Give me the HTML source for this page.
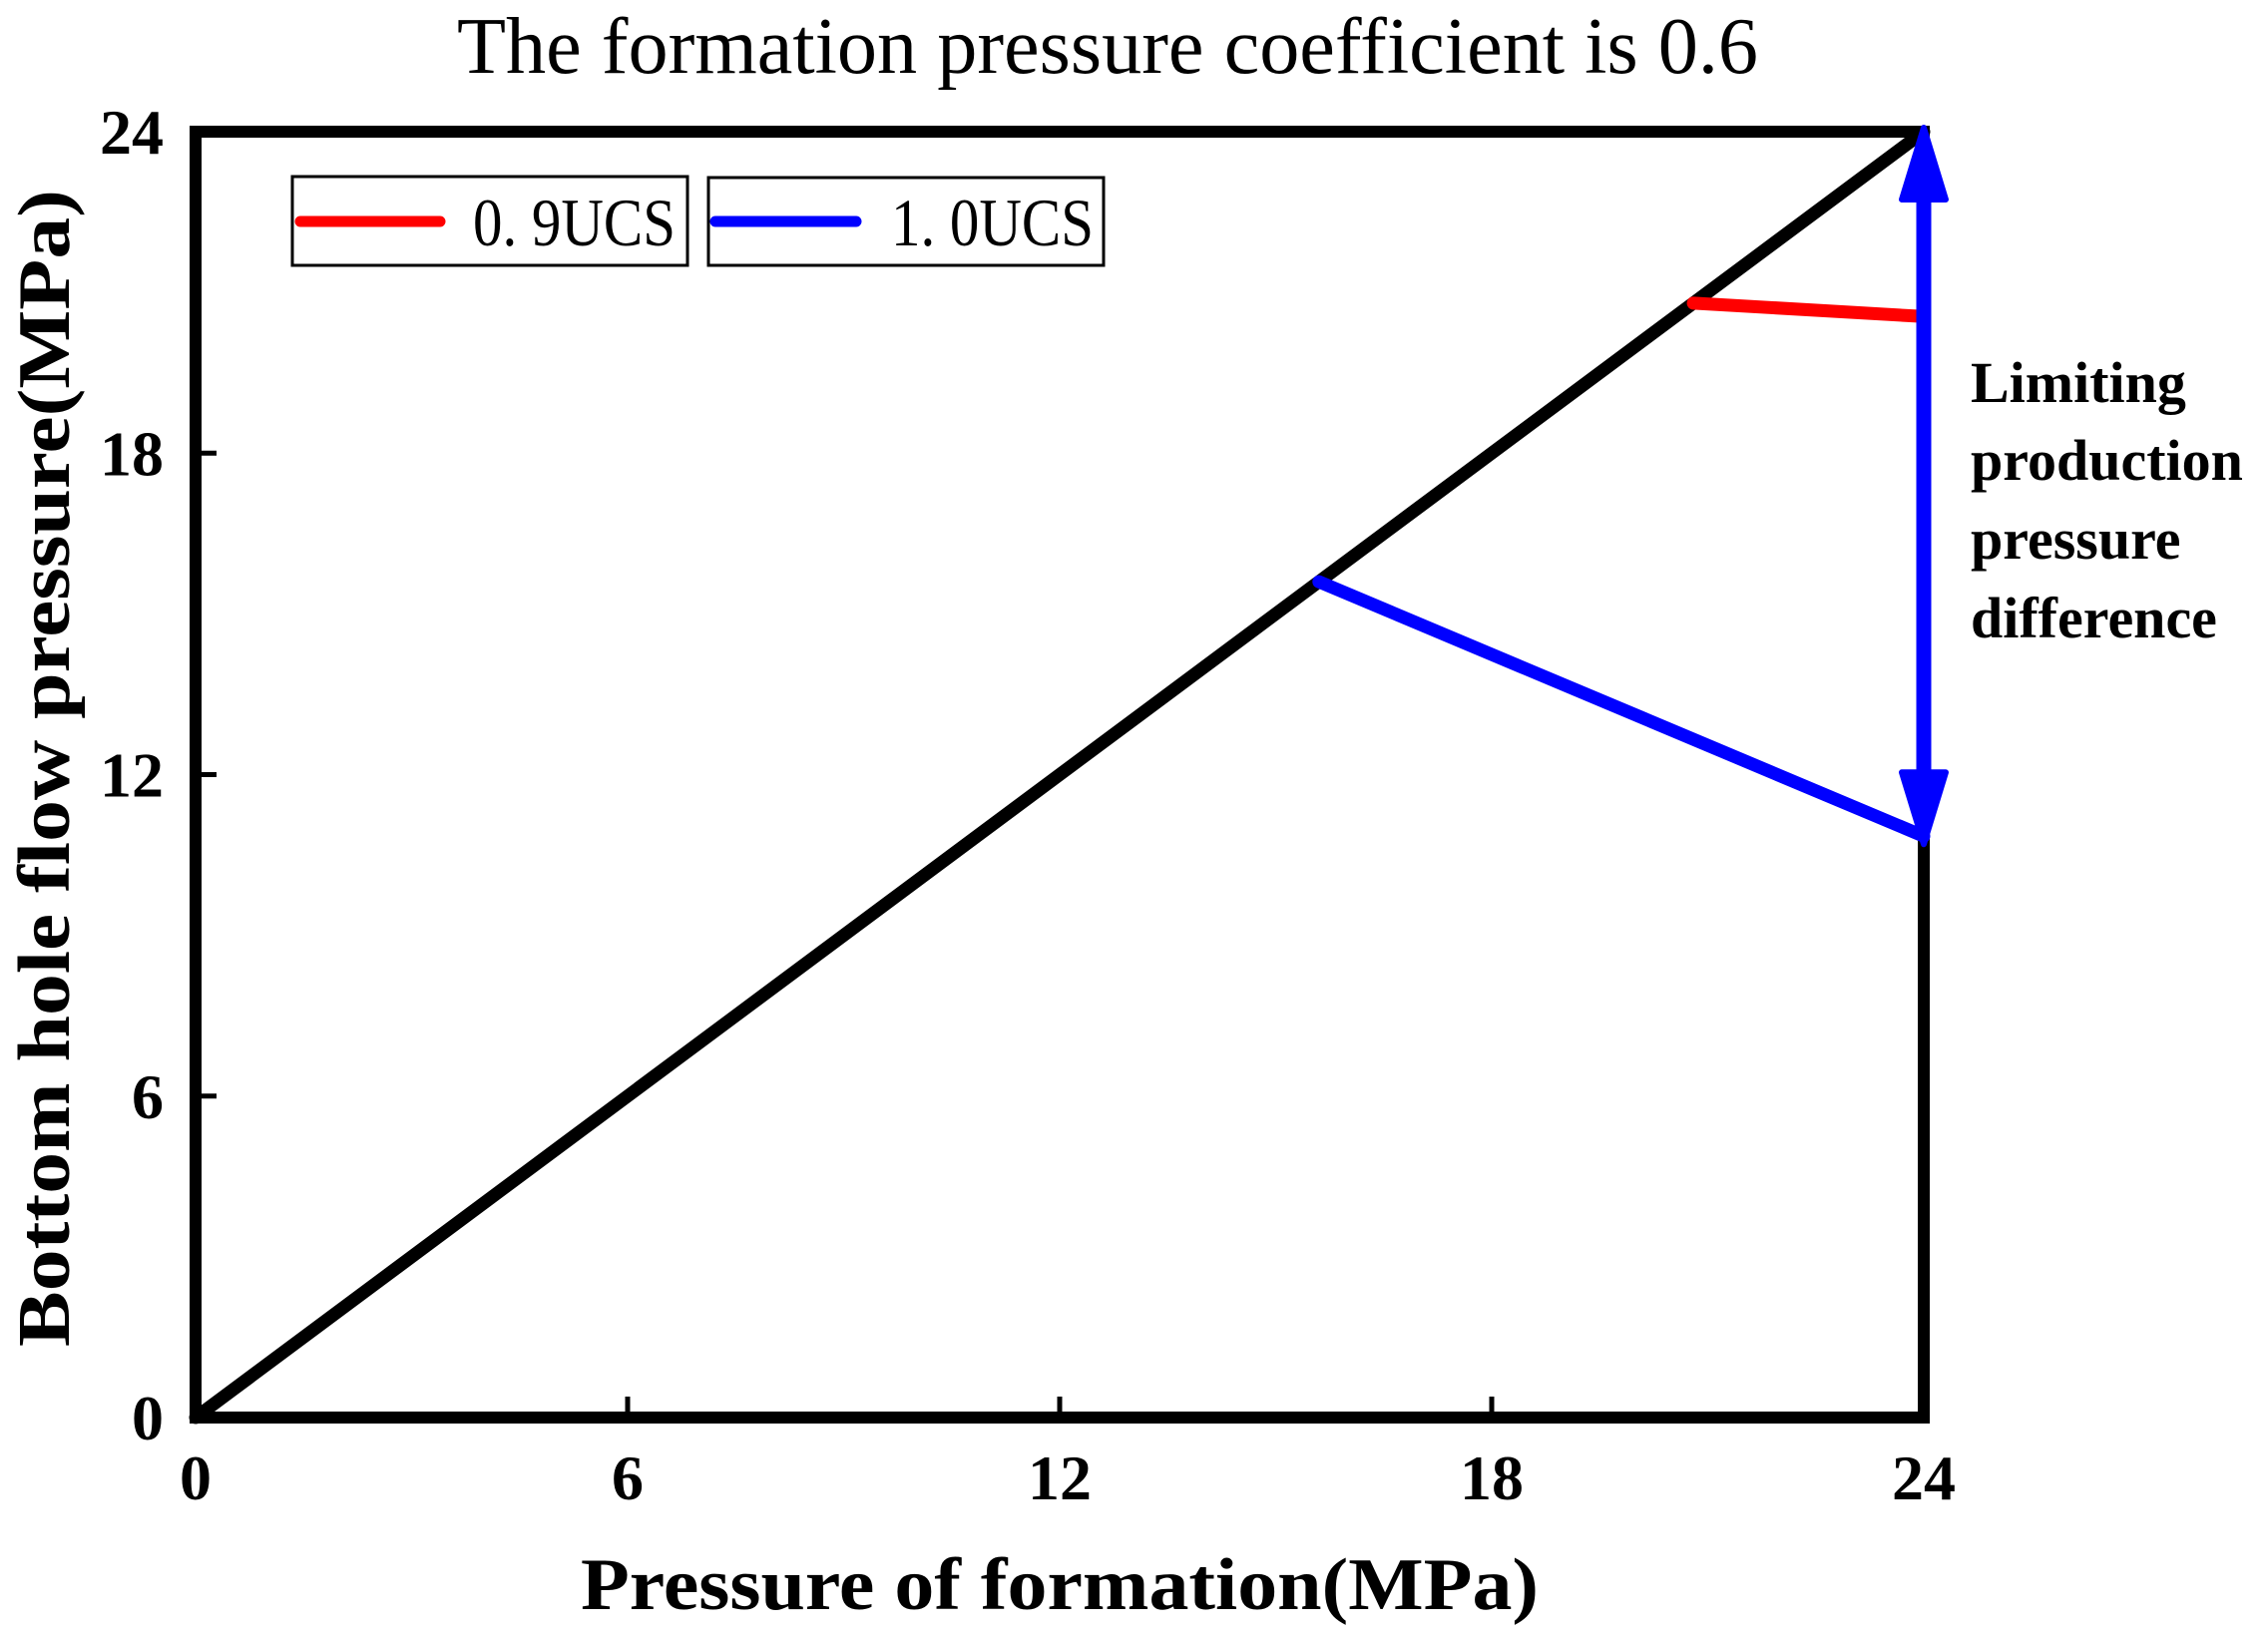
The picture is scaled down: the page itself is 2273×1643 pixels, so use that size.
<!DOCTYPE html>
<html><head><meta charset="utf-8"><style>
html,body{margin:0;padding:0;background:#fff;}
svg{display:block;}
</style></head><body>
<svg id="chart" width="2273" height="1643" viewBox="0 0 2273 1643" xmlns="http://www.w3.org/2000/svg">
<text x="1110" y="73" text-anchor="middle" font-family="Liberation Serif, serif" font-size="80" textLength="1304" lengthAdjust="spacingAndGlyphs">The formation pressure coefficient is 0.6</text>
<g id="plot"></g>
<text x="1062" y="1613" text-anchor="middle" font-family="Liberation Serif, serif" font-weight="bold" font-size="74" textLength="960" lengthAdjust="spacingAndGlyphs">Pressure of formation(MPa)</text>
<text transform="translate(69,770) rotate(-90)" text-anchor="middle" font-family="Liberation Serif, serif" font-weight="bold" font-size="74" textLength="1160" lengthAdjust="spacingAndGlyphs">Bottom hole flow pressure(MPa)</text>
<g font-family="Liberation Serif, serif" font-weight="bold" font-size="58">
<text x="1975" y="403">Limiting</text>
<text x="1975" y="481">production</text>
<text x="1975" y="560">pressure</text>
<text x="1975" y="639">difference</text>
</g>
<g>
<g>
<rect x="293" y="177" width="396" height="89" fill="#fff" stroke="#000" stroke-width="3"/>
<line x1="301" y1="222" x2="441" y2="222" stroke="#f00" stroke-width="11" stroke-linecap="round"/>
<text x="474" y="246" font-family="Liberation Serif, serif" font-size="68" textLength="203" lengthAdjust="spacingAndGlyphs">0. 9UCS</text>
</g>
<g>
<rect x="710" y="178" width="396" height="88" fill="#fff" stroke="#000" stroke-width="3"/>
<line x1="717" y1="222" x2="858" y2="222" stroke="#00f" stroke-width="11" stroke-linecap="round"/>
<text x="893" y="246" font-family="Liberation Serif, serif" font-size="68" textLength="203" lengthAdjust="spacingAndGlyphs">1. 0UCS</text>
</g>
</g>
</svg>
<script>
const xTicks = [0, 6, 12, 18, 24];
const yTicks = [0, 6, 12, 18, 24];
const diagX = [0, 24];
const diagY = [0, 24];
const redX = [20.8, 24];
const redY = [20.8, 20.55];
const blueX = [15.6, 24];
const blueY = [15.6, 10.85];
const arrowTop = 24;
const arrowBottom = 10.85;
const arrowX = 24;

const L = 196, R = 1928, T = 132, B = 1421;
const sx = v => L + (v - 0) / 24 * (R - L);
const sy = v => B - (v - 0) / 24 * (B - T);
const NS = 'http://www.w3.org/2000/svg';
const plot = document.getElementById('plot');
function mk(tag, attrs, parent) {
  const e = document.createElementNS(NS, tag);
  for (const k in attrs) e.setAttribute(k, attrs[k]);
  (parent || plot).appendChild(e);
  return e;
}
function line(xs, ys, color, w, name) {
  const p = mk('polyline', {points: xs.map((x, i) => sx(x) + ',' + sy(ys[i])).join(' '), fill: 'none', stroke: color, 'stroke-width': w, 'stroke-linecap': 'round', 'stroke-linejoin': 'round'});
  
  
  return p;
}
const fr = mk('rect', {x: L, y: T, width: R - L, height: B - T, fill: 'none', stroke: '#000', 'stroke-width': 12});


xTicks.forEach(v => {
  if (v > 0 && v < 24) {
    const t = mk('line', {x1: sx(v), x2: sx(v), y1: B, y2: B - 21, stroke: '#000', 'stroke-width': 5});
    
    
  }
  const lb = mk('text', {x: sx(v), y: 1503, 'text-anchor': 'middle', 'font-family': 'Liberation Serif, serif', 'font-weight': 'bold', 'font-size': 64});
  lb.textContent = v;
  
  
});
yTicks.forEach(v => {
  if (v > 0 && v < 24) {
    const t = mk('line', {x1: L, x2: L + 21, y1: sy(v), y2: sy(v), stroke: '#000', 'stroke-width': 5});
    
    
  }
  const lb = mk('text', {x: 164, y: sy(v) + 22, 'text-anchor': 'end', 'font-family': 'Liberation Serif, serif', 'font-weight': 'bold', 'font-size': 64});
  lb.textContent = v;
  
  
});
line(diagX, diagY, '#000', 13, 'reference-line');
line(redX, redY, '#f00', 13, 'series-0.9ucs');
line(blueX, blueY, '#00f', 13, 'series-1.0ucs');
const ax = sx(arrowX), at = sy(arrowTop), ab = sy(arrowBottom);
const shaft = mk('line', {x1: ax, x2: ax, y1: at + 60, y2: ab - 60, stroke: '#00f', 'stroke-width': 15});


const h1 = mk('polygon', {points: `${ax},${at - 4} ${ax - 22},${at + 68} ${ax + 22},${at + 68}`, fill: '#00f', stroke: '#00f', 'stroke-width': 6, 'stroke-linejoin': 'round'});


const h2 = mk('polygon', {points: `${ax},${ab + 8} ${ax - 22},${ab - 64} ${ax + 22},${ab - 64}`, fill: '#00f', stroke: '#00f', 'stroke-width': 6, 'stroke-linejoin': 'round'});


</script>
</body></html>
